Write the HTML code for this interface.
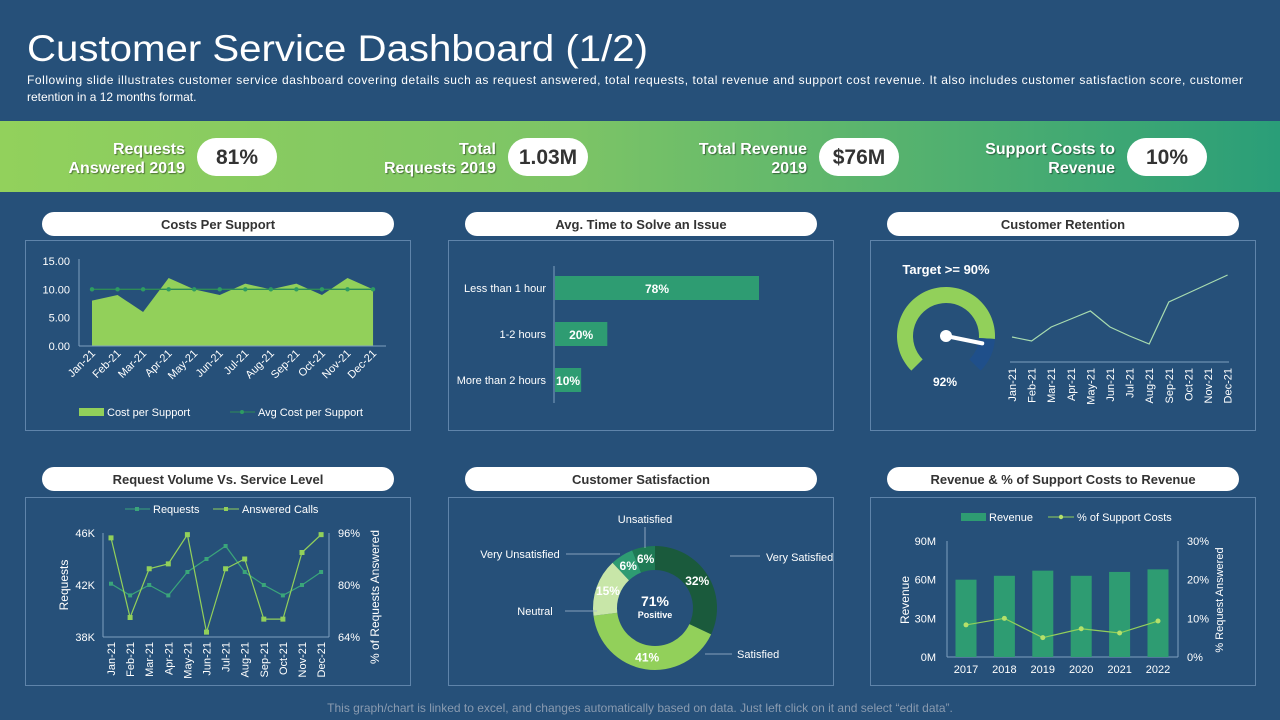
<!DOCTYPE html>
<html><head><meta charset="utf-8"><style>
body{margin:0;background:#265079;font-family:"Liberation Sans",sans-serif;}
#root{position:relative;width:1280px;height:720px;overflow:hidden;background:#265079;}
svg text{font-family:"Liberation Sans",sans-serif;}
</style></head><body>
<div id="root">
<svg id="s" width="1280" height="720" viewBox="0 0 1280 720" xmlns="http://www.w3.org/2000/svg">
<defs>
<linearGradient id="band" x1="0" x2="1" y1="0" y2="0"><stop offset="0" stop-color="#92d15c"/><stop offset="0.45" stop-color="#7cc466"/><stop offset="1" stop-color="#2a9e78"/></linearGradient>
</defs>
<text x="27" y="61" font-size="37" fill="#fff" textLength="621" lengthAdjust="spacingAndGlyphs">Customer Service Dashboard (1/2)</text>
<text x="27" y="84" font-size="12" fill="#fff" textLength="1216" lengthAdjust="spacing">Following slide illustrates customer service dashboard covering details such as request answered, total requests, total revenue  and support cost revenue.  It also includes customer satisfaction score, customer</text>
<text x="27" y="101" font-size="12" fill="#fff">retention in a 12 months format.</text>
<rect x="0" y="121" width="1280" height="71" fill="url(#band)"/>
<g id="kpis"></g>
<g id="panels"></g>
<g id="c1"></g><g id="c2"></g><g id="c3"></g><g id="c4"></g><g id="c5"></g><g id="c6"></g>
<text x="640" y="712" font-size="12" fill="#8a9bb0" text-anchor="middle">This graph/chart is linked to excel, and changes automatically based on data. Just left click on it and select “edit data”.</text>
</svg>
</div>
<script>
const months=["Jan-21","Feb-21","Mar-21","Apr-21","May-21","Jun-21","Jul-21","Aug-21","Sep-21","Oct-21","Nov-21","Dec-21"];
const costPerSupport=[8,9,6,12,10,9,11,10,11,9,12,10];
const avgCostPerSupport=[10,10,10,10,10,10,10,10,10,10,10,10];
const costTicks=["0.00","5.00","10.00","15.00"];
const requestsK=[42.1,41.2,42,41.2,43,44,45,43,42,41.2,42,43];
const answeredPct=[94.5,70,85,86.5,95.5,65.5,85,88,69.5,69.5,90,95.5];
const solveCats=["Less than 1 hour","1-2 hours","More than 2 hours"];
const solveVals=[78,20,10];
const retentionVals=[25,21,35,43,51,35,26,18,60,69,78,87];
const retentionGauge=92;
const satCats=["Very Satisfied","Satisfied","Neutral","Very Unsatisfied","Unsatisfied"];
const satVals=[32,41,15,6,6];
const years=["2017","2018","2019","2020","2021","2022"];
const revenueM=[60,63,67,63,66,68];
const supportPct=[8.3,10,5,7.3,6.2,9.3];

const NS="http://www.w3.org/2000/svg";
function E(parent,tag,attrs,txt){const el=document.createElementNS(NS,tag);for(const k in attrs)el.setAttribute(k,attrs[k]);if(txt!==undefined)el.textContent=txt;parent.appendChild(el);return el;}
const $=id=>document.getElementById(id);

// KPIs
const kpiLabels=[["Requests","Answered 2019"],["Total","Requests 2019"],["Total Revenue","2019"],["Support Costs to","Revenue"]];
const kpiValues=["81%","1.03M","$76M","10%"];
const kpiEnd=[185,496,807,1115];
kpiLabels.forEach((l,i)=>{
  const g=E($("kpis"),"g",{});
  
  
  l.forEach((t,j)=>{const tx=E(g,"text",{x:kpiEnd[i],y:154+j*19,"font-size":16,"font-weight":"bold",fill:"#fff","text-anchor":"end",style:"text-shadow:1px 1px 1px rgba(0,0,0,0.45)"},t);
    });
  const px=kpiEnd[i]+12;
  const r=E(g,"rect",{x:px,y:138,width:80,height:38,rx:19,fill:"#fff"});
  
  const v=E(g,"text",{x:px+40,y:164,"font-size":21,"font-weight":"bold",fill:"#333","text-anchor":"middle"},kpiValues[i]);
  
});

// panels
const panelTitles=["Costs  Per Support","Avg. Time to Solve an Issue","Customer Retention","Request Volume Vs. Service Level","Customer  Satisfaction","Revenue & % of Support Costs  to Revenue"];
const colX=[25,448,870];
panelTitles.forEach((t,i)=>{
  const c=i%3,r=Math.floor(i/3);
  const x=colX[c],y=r?497:240,h=r?188:190;
  const b=E($("panels"),"rect",{x:x+0.5,y:y+0.5,width:385,height:h,fill:"none",stroke:"#5f84aa","stroke-width":1});
  
  const py=r?467:212;
  const p=E($("panels"),"rect",{x:x+17,y:py,width:352,height:24,rx:12,fill:"#fff"});
  
  const tx=E($("panels"),"text",{x:x+193,y:py+17,"font-size":13,"font-weight":"bold",fill:"#333","text-anchor":"middle"},t);
  
});

function rotLabel(g,x,y,t,size,angle,anchor){const el=E(g,"text",{x:x,y:y,"font-size":size,fill:"#fff","text-anchor":anchor||"end",transform:`rotate(${angle} ${x} ${y})`},t);return el;}

// Chart 1: costs per support
(function(){
  const g=$("c1");
  const X=i=>92+i*25.55, Y=v=>346-v*(85/15);
  costTicks.forEach(t=>{const el=E(g,"text",{x:70,y:Y(+t)+4,"font-size":11,fill:"#fff","text-anchor":"end"},t);
    });
  let d=`M${X(0)},${Y(0)}`;costPerSupport.forEach((v,i)=>d+=` L${X(i)},${Y(v)}`);d+=` L${X(11)},${Y(0)} Z`;
  const a=E(g,"path",{d:d,fill:"#92d05a"});
  E(g,"line",{x1:79,y1:Y(15)-2,x2:79,y2:Y(0),stroke:"#7f9fc0"});
  E(g,"line",{x1:79,y1:Y(0),x2:386,y2:Y(0),stroke:"#7f9fc0"});
  const ln=E(g,"polyline",{points:avgCostPerSupport.map((v,i)=>X(i)+","+Y(v)).join(" "),fill:"none",stroke:"#2e8b57","stroke-width":1.3});
  
  avgCostPerSupport.forEach((v,i)=>{const c=E(g,"circle",{cx:X(i),cy:Y(v),r:2.2,fill:"#2e9c62"});});
  months.forEach((m,i)=>{const el=rotLabel(g,X(i)+4,354,m,11,-45);});
  const l1=E(g,"rect",{x:79,y:408,width:25,height:8,fill:"#92d05a"});
  E(g,"text",{x:107,y:416,"font-size":11,fill:"#fff"},"Cost per Support");
  E(g,"line",{x1:230,y1:412,x2:255,y2:412,stroke:"#2e8b57"});E(g,"circle",{cx:242,cy:412,r:2,fill:"#2e9c62"});
  E(g,"text",{x:258,y:416,"font-size":11,fill:"#fff"},"Avg Cost per Support");
})();

// Chart 2: request volume
(function(){
  const g=$("c2");
  const X=i=>111+i*19.1, YL=v=>637-(v-38)*(104/8), YR=v=>637-(v-64)*(104/32);
  [38,42,46].forEach(t=>{const el=E(g,"text",{x:95,y:YL(t)+4,"font-size":11,fill:"#fff","text-anchor":"end"},t+"K");});
  [64,80,96].forEach(t=>{const el=E(g,"text",{x:338,y:YR(t)+4,"font-size":11,fill:"#fff"},t+"%");});
  E(g,"line",{x1:103,y1:533,x2:103,y2:637,stroke:"#7f9fc0"});E(g,"line",{x1:329,y1:533,x2:329,y2:637,stroke:"#7f9fc0"});
  E(g,"line",{x1:103,y1:637,x2:329,y2:637,stroke:"#7f9fc0"});
  const l1=E(g,"polyline",{points:requestsK.map((v,i)=>X(i)+","+YL(v)).join(" "),fill:"none",stroke:"#3aa57a","stroke-width":1.2});
  
  requestsK.forEach((v,i)=>{const r=E(g,"rect",{x:X(i)-2,y:YL(v)-2,width:4,height:4,fill:"#3aa57a"});});
  const l2=E(g,"polyline",{points:answeredPct.map((v,i)=>X(i)+","+YR(v)).join(" "),fill:"none",stroke:"#92d05a","stroke-width":1.2});
  
  answeredPct.forEach((v,i)=>{const r=E(g,"rect",{x:X(i)-2.5,y:YR(v)-2.5,width:5,height:5,fill:"#92d05a"});});
  months.forEach((m,i)=>{const el=rotLabel(g,X(i)+4,642,m,11,-90);});
  E(g,"text",{x:68,y:585,"font-size":12,fill:"#fff","text-anchor":"middle",transform:"rotate(-90 68 585)"},"Requests");
  E(g,"text",{x:379,y:597,"font-size":12,fill:"#fff","text-anchor":"middle",transform:"rotate(-90 379 597)"},"% of Requests Answered");
  E(g,"line",{x1:125,y1:509,x2:150,y2:509,stroke:"#3aa57a"});E(g,"rect",{x:135,y:507,width:4,height:4,fill:"#3aa57a"});
  E(g,"text",{x:153,y:513,"font-size":11,fill:"#fff"},"Requests");
  E(g,"line",{x1:213,y1:509,x2:239,y2:509,stroke:"#92d05a"});E(g,"rect",{x:224,y:507,width:4,height:4,fill:"#92d05a"});
  E(g,"text",{x:242,y:513,"font-size":11,fill:"#fff"},"Answered Calls");
})();

// Chart 3: avg time to solve
(function(){
  const g=$("c3");
  const Y=i=>288+i*46, W=v=>v*(204/78);
  E(g,"line",{x1:554,y1:266,x2:554,y2:403,stroke:"#7f9fc0"});
  solveCats.forEach((c,i)=>{
    const t=E(g,"text",{x:546,y:Y(i)+4,"font-size":11,fill:"#fff","text-anchor":"end"},c);
    const b=E(g,"rect",{x:555,y:Y(i)-12,width:W(solveVals[i]),height:24,fill:"#2e9c72"});
    const v=E(g,"text",{x:555+W(solveVals[i])/2,y:Y(i)+5,"font-size":12,"font-weight":"bold",fill:"#fff","text-anchor":"middle"},solveVals[i]+"%");
  });
})();

// Chart 4: customer retention
(function(){
  const g=$("c4");
  const cx=946,cy=336,ro=49,ri=33;
  const P=(a,r)=>[cx+r*Math.cos(a*Math.PI/180),cy-r*Math.sin(a*Math.PI/180)];
  function arc(a0,a1,fill,name){const[x1,y1]=P(a0,ro),[x2,y2]=P(a1,ro),[x3,y3]=P(a1,ri),[x4,y4]=P(a0,ri);const large=(a0-a1)>180?1:0;
    const p=E(g,"path",{d:`M${x1},${y1} A${ro},${ro} 0 ${large} 1 ${x2},${y2} L${x3},${y3} A${ri},${ri} 0 ${large} 0 ${x4},${y4} Z`,fill:fill});}
  const start=225,span=270;const end=start-span*retentionGauge/100*0.92;
  arc(start,end,"#92d05a","gauge-value-arc");arc(end,start-span,"#1f4f8a","gauge-rest-arc");
  const na=end-8;const [nx,ny]=P(na,37);
  E(g,"line",{x1:cx,y1:cy,x2:nx,y2:ny,stroke:"#fff","stroke-width":4,"stroke-linecap":"round"});
  E(g,"circle",{cx:cx,cy:cy,r:6,fill:"#fff"});
  E(g,"text",{x:945,y:386,"font-size":12,"font-weight":"bold",fill:"#fff","text-anchor":"middle"},retentionGauge+"%");
  E(g,"text",{x:946,y:274,"font-size":13,"font-weight":"bold",fill:"#fff","text-anchor":"middle"},"Target >= 90%");
  const X=i=>1012+i*19.6,Y=v=>362-v;
  E(g,"line",{x1:1010,y1:362,x2:1229,y2:362,stroke:"#7f9fc0"});
  const l=E(g,"polyline",{points:retentionVals.map((v,i)=>X(i)+","+Y(v)).join(" "),fill:"none",stroke:"#a8dcb0","stroke-width":1.2});
  
  months.forEach((m,i)=>{const el=rotLabel(g,X(i)+4,368,m,11,-90);});
})();

// Chart 5: customer satisfaction donut
(function(){
  const g=$("c5");
  const cx=655,cy=608,ro=62,ri=38;
  const colors=["#1a5a3c","#92d05a","#c8e6a8","#2e9c72","#1f7a55"];
  const P=(a,r)=>[cx+r*Math.sin(a),cy-r*Math.cos(a)];
  const tot=satVals.reduce((a,b)=>a+b,0);let a=0;
  const labelPos=[[766,561,"start"],[737,658,"start"],[535,615,"middle"],[520,558,"middle"],[645,523,"middle"]];
  const leaders=[[[730,556],[760,556]],[[705,654],[732,654]],[[565,611],[597,611]],[[566,554],[620,554]],[[645,527],[645,548]]];
  satVals.forEach((v,i)=>{
    const a0=a,a1=a+v/tot*2*Math.PI;a=a1;
    const[x1,y1]=P(a0,ro),[x2,y2]=P(a1,ro),[x3,y3]=P(a1,ri),[x4,y4]=P(a0,ri);const lg=(a1-a0)>Math.PI?1:0;
    const p=E(g,"path",{d:`M${x1},${y1} A${ro},${ro} 0 ${lg} 1 ${x2},${y2} L${x3},${y3} A${ri},${ri} 0 ${lg} 0 ${x4},${y4} Z`,fill:colors[i]});
    
    const am=(a0+a1)/2;const [lx,ly]=P(am,(ro+ri)/2);
    const t=E(g,"text",{x:lx,y:ly+4,"font-size":12,"font-weight":"bold",fill:"#fff","text-anchor":"middle"},v+"%");
    const lp=labelPos[i];
    const c=E(g,"text",{x:lp[0],y:lp[1],"font-size":11,fill:"#fff","text-anchor":lp[2]},satCats[i]);
    E(g,"line",{x1:leaders[i][0][0],y1:leaders[i][0][1],x2:leaders[i][1][0],y2:leaders[i][1][1],stroke:"#a9bcd0","stroke-width":0.8});
  });
  E(g,"text",{x:cx,y:606,"font-size":14,"font-weight":"bold",fill:"#fff","text-anchor":"middle"},"71%");
  E(g,"text",{x:cx,y:618,"font-size":9,"font-weight":"bold",fill:"#fff","text-anchor":"middle"},"Positive");
})();

// Chart 6: revenue
(function(){
  const g=$("c6");
  const X=i=>966+i*38.4, YL=v=>657-v*(116/90), YR=v=>657-v*(116/30);
  [0,30,60,90].forEach(t=>{const el=E(g,"text",{x:936,y:YL(t)+4,"font-size":11,fill:"#fff","text-anchor":"end"},t+"M");});
  [0,10,20,30].forEach(t=>{const el=E(g,"text",{x:1187,y:YR(t)+4,"font-size":11,fill:"#fff"},t+"%");});
  E(g,"line",{x1:947,y1:541,x2:947,y2:657,stroke:"#7f9fc0"});E(g,"line",{x1:1178,y1:541,x2:1178,y2:657,stroke:"#7f9fc0"});
  E(g,"line",{x1:947,y1:657,x2:1178,y2:657,stroke:"#7f9fc0"});
  revenueM.forEach((v,i)=>{const b=E(g,"rect",{x:X(i)-10.5,y:YL(v),width:21,height:657-YL(v),fill:"#2e9c72"});
    const t=E(g,"text",{x:X(i),y:673,"font-size":11,fill:"#fff","text-anchor":"middle"},years[i]);});
  const l=E(g,"polyline",{points:supportPct.map((v,i)=>X(i)+","+YR(v)).join(" "),fill:"none",stroke:"#92d05a","stroke-width":1.2});
  
  supportPct.forEach((v,i)=>{const c=E(g,"circle",{cx:X(i),cy:YR(v),r:2.5,fill:"#b5e06a"});});
  E(g,"text",{x:909,y:600,"font-size":12,fill:"#fff","text-anchor":"middle",transform:"rotate(-90 909 600)"},"Revenue");
  E(g,"text",{x:1223,y:600,"font-size":11,fill:"#fff","text-anchor":"middle",transform:"rotate(-90 1223 600)"},"% Request Answered");
  E(g,"rect",{x:961,y:513,width:25,height:8,fill:"#2e9c72"});
  E(g,"text",{x:989,y:521,"font-size":11,fill:"#fff"},"Revenue");
  E(g,"line",{x1:1048,y1:517,x2:1074,y2:517,stroke:"#92d05a"});E(g,"circle",{cx:1061,cy:517,r:2.2,fill:"#b5e06a"});
  E(g,"text",{x:1077,y:521,"font-size":11,fill:"#fff"},"% of Support Costs");
})();
</script>
</body></html>
